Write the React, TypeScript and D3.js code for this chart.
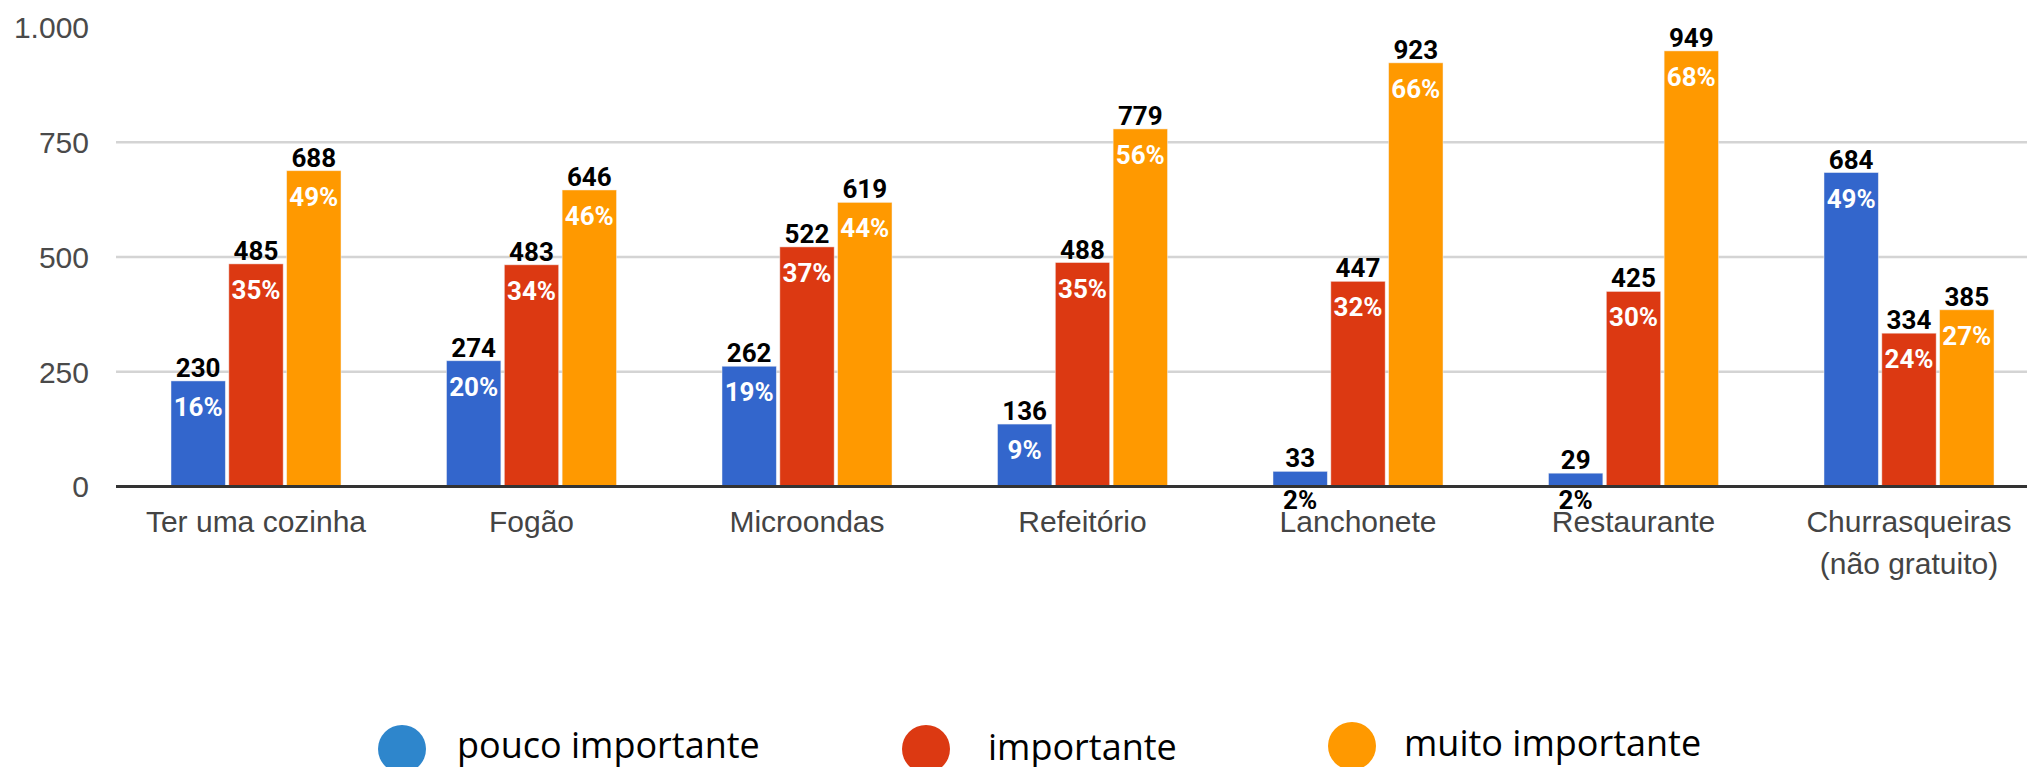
import * as d3 from 'd3';
import { useMemo } from 'react';

// Categories and series values
const categories = [
  ['Ter uma cozinha'],
  ['Fogão'],
  ['Microondas'],
  ['Refeitório'],
  ['Lanchonete'],
  ['Restaurante'],
  ['Churrasqueiras', '(não gratuito)'],
];
const seriesNames = ['pouco importante', 'importante', 'muito importante'];
const poucoValues = [230, 274, 262, 136, 33, 29, 684];
const importanteValues = [485, 483, 522, 488, 447, 425, 334];
const muitoValues = [688, 646, 619, 779, 923, 949, 385];
const poucoPct = ['16%', '20%', '19%', '9%', '2%', '2%', '49%'];
const importantePct = ['35%', '34%', '37%', '35%', '32%', '30%', '24%'];
const muitoPct = ['49%', '46%', '44%', '56%', '66%', '68%', '27%'];
const yTicks = [0, 250, 500, 750, 1000];

const barColors = ['#3366cc', '#dc3912', '#ff9900'];
const legendColors = ['#2e86cc', '#dc3912', '#ff9900'];

const WIDTH = 2027;
const HEIGHT = 767;
const PLOT = { left: 116, right: 2027, top: 27.5, bottom: 486.5 };

const fmt = (v: number) => (v === 1000 ? '1.000' : String(v));

export default function App() {
  const series = useMemo(
    () => [
      { name: seriesNames[0], values: poucoValues, pct: poucoPct },
      { name: seriesNames[1], values: importanteValues, pct: importantePct },
      { name: seriesNames[2], values: muitoValues, pct: muitoPct },
    ],
    []
  );

  const x0 = d3
    .scaleBand<number>()
    .domain(d3.range(categories.length))
    .range([118.25, 2046.75])
    .paddingInner(0.383)
    .paddingOuter(0.1915);

  const x1 = d3
    .scaleBand<number>()
    .domain(d3.range(series.length))
    .range([0, x0.bandwidth()])
    .paddingInner(0.06);

  const y = d3.scaleLinear().domain([0, 1000]).range([PLOT.bottom, PLOT.top]);

  const labelFont = '"Liberation Sans", Arial, sans-serif';
  const annoFont = 'Roboto, "Liberation Sans", Arial, sans-serif';

  const legendItems = [
    { circleX: 402, circleY: 749, textX: 457, textY: 758 },
    { circleX: 926, circleY: 749, textX: 988, textY: 760 },
    { circleX: 1352, circleY: 746, textX: 1404, textY: 756 },
  ];

  return (
    <svg
      width={WIDTH}
      height={HEIGHT}
      style={{ position: 'absolute', left: 0, top: 0, background: '#fff' }}
    >
      <rect width={WIDTH} height={HEIGHT} fill="#fff" />

      {/* gridlines */}
      {yTicks
        .filter((t) => t > 0 && t < 1000)
        .map((t) => (
          <line
            key={t}
            x1={PLOT.left}
            x2={PLOT.right}
            y1={y(t)}
            y2={y(t)}
            stroke="#d4d4d4"
            strokeWidth={2.5}
          />
        ))}

      {/* y tick labels */}
      {yTicks.map((t) => (
        <text
          key={t}
          x={89}
          y={y(t)}
          dy="0.36em"
          textAnchor="end"
          fontFamily={labelFont}
          fontSize={30}
          fill="#4a4a4a"
        >
          {fmt(t)}
        </text>
      ))}

      {/* x category labels */}
      {categories.map((lines, i) => (
        <text
          key={i}
          x={(x0(i) ?? 0) + x0.bandwidth() / 2}
          y={532}
          textAnchor="middle"
          fontFamily={labelFont}
          fontSize={30}
          fill="#444"
        >
          {lines.map((l, j) => (
            <tspan key={j} x={(x0(i) ?? 0) + x0.bandwidth() / 2} dy={j === 0 ? 0 : 42}>
              {l}
            </tspan>
          ))}
        </text>
      ))}

      {/* bars */}
      {categories.map((_, i) => (
        <g key={i} transform={`translate(${x0(i)},0)`}>
          {series.map((s, k) => {
            const v = s.values[i];
            return (
              <rect
                key={k}
                x={x1(k)}
                y={y(v)}
                width={x1.bandwidth()}
                height={y(0) - y(v)}
                fill={barColors[k]}
                stroke="#f4f4f4"
                strokeWidth={0.8}
                strokeOpacity={0.6}
              />
            );
          })}
        </g>
      ))}

      {/* baseline */}
      <line
        x1={PLOT.left}
        x2={PLOT.right}
        y1={y(0)}
        y2={y(0)}
        stroke="#333"
        strokeWidth={3}
      />

      {/* annotations */}
      {categories.map((_, i) => (
        <g key={i} transform={`translate(${x0(i)},0)`}>
          {series.map((s, k) => {
            const v = s.values[i];
            const cx = (x1(k) ?? 0) + x1.bandwidth() / 2;
            const inside = y(0) - y(v) > 45;
            return (
              <g key={k}>
                <text
                  x={cx}
                  y={y(v) - 4}
                  textAnchor="middle"
                  fontFamily={annoFont}
                  fontWeight="bold"
                  fontSize={26}
                  fill="#000"
                >
                  {v}
                </text>
                <text
                  x={cx}
                  y={inside ? y(v) + 35 : y(0) + 22}
                  textAnchor="middle"
                  fontFamily={annoFont}
                  fontWeight="bold"
                  fontSize={26}
                  fill={inside ? '#fff' : '#000'}
                >
                  {s.pct[i]}
                </text>
              </g>
            );
          })}
        </g>
      ))}

      {/* legend */}
      {legendItems.map((it, k) => (
        <g key={k}>
          <circle cx={it.circleX} cy={it.circleY} r={24} fill={legendColors[k]} />
          <text
            x={it.textX}
            y={it.textY}
            fontFamily='"Open Sans", "Noto Sans", sans-serif'
            fontSize={36}
            fill="#000"
          >
            {seriesNames[k]}
          </text>
        </g>
      ))}
    </svg>
  );
}
